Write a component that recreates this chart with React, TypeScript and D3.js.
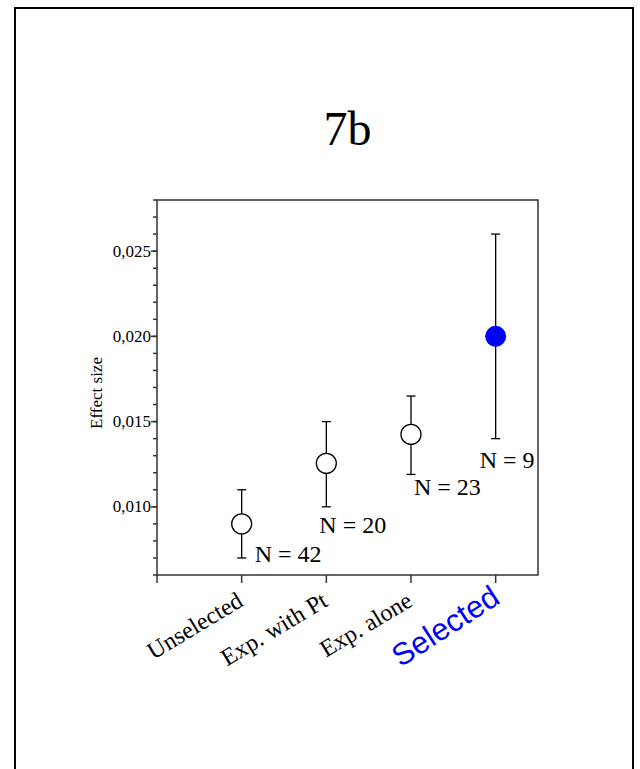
import * as d3 from 'd3';

// group order along the x axis
const categories = ['Unselected', 'Exp. with Pt', 'Exp. alone', 'Selected'];
const means = [0.009, 0.01255, 0.01425, 0.02];
const upper = [0.011, 0.015, 0.0165, 0.026];
const lower = [0.007, 0.01, 0.0119, 0.014];
const counts = [42, 20, 23, 9];
const highlighted = [false, false, false, true];

const yMajorTicks = [0.01, 0.015, 0.02, 0.025];
const yTickLabels = ['0,010', '0,015', '0,020', '0,025'];

// where the "N = .." labels sit, relative to the lower whisker (px)
const nLabelOffsets = [
  { dx: 13, dy: 4 },
  { dx: -7, dy: 26 },
  { dx: 3, dy: 21 },
  { dx: -16, dy: 29 },
];

const W = 640;
const H = 769;
const margin = { top: 200, right: 102, bottom: 194, left: 157 };
const serif = '"Liberation Serif", "Times New Roman", serif';
const sans = '"Liberation Sans", Arial, sans-serif';

export default function App() {
  const innerW = W - margin.left - margin.right;
  const innerH = H - margin.top - margin.bottom;

  const x = d3.scaleLinear().domain([0, 4.5]).range([0, innerW]);
  const y = d3.scaleLinear().domain([0.006, 0.028]).range([innerH, 0]);

  const minorTicks = d3.range(6, 29).map((v) => v / 1000);
  const xTicks = d3.range(0, 5);

  return (
    <svg
      width={W}
      height={H}
      style={{ position: 'absolute', left: 0, top: 0, background: '#fff' }}
    >
      {/* page frame */}
      <rect x={15} y={8} width={618} height={820} fill="none" stroke="#000" strokeWidth={2} />

      <text x={margin.left + innerW / 2} y={145} textAnchor="middle" fontFamily={serif} fontSize={48}>
        7b
      </text>

      <g transform={`translate(${margin.left},${margin.top})`}>
        {/* plot box */}
        <rect x={0} y={0} width={innerW} height={innerH} fill="none" stroke="#333" strokeWidth={1.5} />

        {/* y ticks */}
        {minorTicks.map((t) => (
          <line key={'m' + t} x1={-4} x2={0} y1={y(t)} y2={y(t)} stroke="#333" strokeWidth={1.5} />
        ))}
        {yMajorTicks.map((t, i) => (
          <g key={'M' + t}>
            <line x1={-6} x2={0} y1={y(t)} y2={y(t)} stroke="#333" strokeWidth={1.5} />
            <text x={-6} y={y(t)} dy="0.32em" textAnchor="end" fontFamily={serif} fontSize={17}>
              {yTickLabels[i]}
            </text>
          </g>
        ))}

        {/* x ticks */}
        {xTicks.map((t) => (
          <line key={'x' + t} x1={x(t)} x2={x(t)} y1={innerH} y2={innerH + 8} stroke="#333" strokeWidth={1.5} />
        ))}

        <text
          transform={`translate(${102 - margin.left},${193}) rotate(-90)`}
          textAnchor="middle"
          fontFamily={serif}
          fontSize={17}
        >
          Effect size
        </text>

        {/* error bars and points */}
        {categories.map((c, i) => {
          const cx = x(i + 1);
          return (
            <g key={c}>
              <line x1={cx} x2={cx} y1={y(upper[i])} y2={y(lower[i])} stroke="#000" strokeWidth={1.3} />
              <line x1={cx - 4.5} x2={cx + 4.5} y1={y(upper[i])} y2={y(upper[i])} stroke="#000" strokeWidth={1.3} />
              <line x1={cx - 4.5} x2={cx + 4.5} y1={y(lower[i])} y2={y(lower[i])} stroke="#000" strokeWidth={1.3} />
              {highlighted[i] ? (
                <circle cx={cx} cy={y(means[i])} r={10.5} fill="#0000ff" />
              ) : (
                <circle cx={cx} cy={y(means[i])} r={10} fill="#fff" stroke="#000" strokeWidth={1.3} />
              )}
              <text
                x={cx + nLabelOffsets[i].dx}
                y={y(lower[i]) + nLabelOffsets[i].dy}
                fontFamily={serif}
                fontSize={24}
              >
                {`N = ${counts[i]}`}
              </text>
            </g>
          );
        })}

        {/* category labels */}
        {categories.map((c, i) =>
          highlighted[i] ? (
            <text
              key={'l' + c}
              transform={`translate(${x(i + 1) + 6},${innerH + 27}) rotate(-33)`}
              textAnchor="end"
              fontFamily={sans}
              fontSize={31}
              fill="#0000ff"
            >
              {c}
            </text>
          ) : (
            <text
              key={'l' + c}
              transform={`translate(${x(i + 1) + 3},${innerH + 30}) rotate(-31)`}
              textAnchor="end"
              fontFamily={serif}
              fontSize={24}
            >
              {c}
            </text>
          )
        )}
      </g>
    </svg>
  );
}
